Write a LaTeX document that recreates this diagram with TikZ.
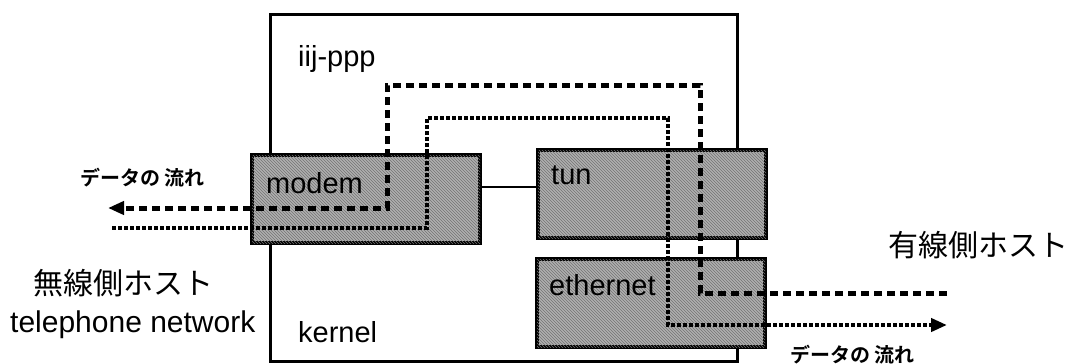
\documentclass[tikz,border=0pt]{standalone}
\usepackage{fontspec}
\setmainfont{Liberation Sans}
\newfontfamily\jpfont[BoldFont={* Bold}]{Noto Sans CJK JP}
\usepackage{tikz}
\usetikzlibrary{arrows.meta,positioning,patterns}

\begin{document}
\begin{tikzpicture}[
  x=1pt,y=-1pt,
  frame/.style={draw, line width=3pt, minimum width=467pt, minimum height=347pt, inner sep=0pt},
  ifbox/.style={draw, line width=4pt, fill=gray!62, postaction={pattern=north west lines, pattern color=black!55}, minimum width=228pt, minimum height=88pt, inner sep=0pt},
  lbl/.style={anchor=base west, inner sep=0pt, font=\fontsize{29}{33}\selectfont},
  jplbl/.style={anchor=west, inner sep=0pt, font=\jpfont\fontsize{30}{34}\selectfont},
  flow/.style={anchor=west, inner sep=0pt, font=\jpfont\bfseries\fontsize{20}{23}\selectfont},
  link/.style={line width=2.5pt},
  bigdash/.style={line width=5pt, dash pattern=on 8pt off 5pt},
  smalldot/.style={line width=4pt, dash pattern=on 4pt off 2pt},
  tip/.style={-{Triangle[length=16pt,width=13pt]}}
]
\useasboundingbox (0,0) rectangle (1076,364);
\node[frame] (kernelbox) at (503.5,187.5) {};
\node[ifbox] (modem) at (366,199) {};
\node[ifbox] (tun) at (652,194) {};
\node[ifbox] (ether) at (651,303) {};
\draw[link] (modem.east |- 0,187) -- (tun.west |- 0,187);
\coordinate (dashR) at (947,293);
\coordinate (dashL) at (108,208);
\coordinate (dotL) at (112,228);
\coordinate (dotR) at (947,325);
\draw[bigdash,tip] (dashR) -- (700,293) -- (700,85) -- (387,85) -- (387,208) -- (dashL);
\draw[smalldot,tip] (dotL) -- (427,228) -- (427,118) -- (668,118) -- (668,325) -- (dotR);
\node[lbl] (ppp) at (298,66) {iij-ppp};
\node[lbl] (modemtxt) at (266,193) {modem};
\node[lbl] (tuntxt) at (551,184) {tun};
\node[lbl] (ethertxt) at (549,295) {ethernet};
\node[lbl] (kerneltxt) at (298,342) {kernel};
\node[lbl, font=\fontsize{30}{34}\selectfont] (phone) at (10,332) {telephone network};
\node[jplbl] (wireless) at (33,283) {無線側ホスト};
\node[jplbl] (wired) at (888,245) {有線側ホスト};
\node[flow] (flowL) at (80,178) {データの 流れ};
\node[flow] (flowR) at (790,355) {データの 流れ};
\end{tikzpicture}
\end{document}
